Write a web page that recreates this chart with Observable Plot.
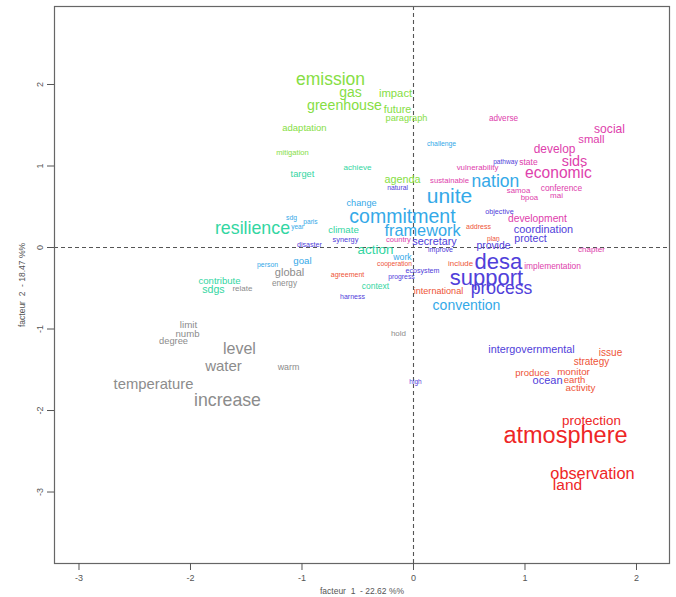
<!DOCTYPE html>
<html>
<head>
<meta charset="utf-8">
<script src="https://cdn.jsdelivr.net/npm/d3@7"></script>
<script src="https://cdn.jsdelivr.net/npm/@observablehq/plot@0.6"></script>
<style>
  html, body { margin: 0; padding: 0; background: #fff; }
  #chart svg { display: block; }
</style>
</head>
<body>
<div id="chart"></div>
<script>
// Words of the factor map
const words = [
  "emission","gas","greenhouse","impact","future","paragraph","adaptation","mitigation","agenda",
  "target","achieve","resilience","climate","action","contribute","sdgs","context",
  "challenge","unite","nation","commitment","framework","change","sdg","paris","year","person","goal","work","convention",
  "natural","disaster","synergy","secretary","improve","provide","desa","support","process","coordination","protect","objective","pathway","ecosystem","progress","harness","intergovernmental","ocean","high",
  "adverse","social","small","develop","sids","economic","vulnerability","sustainable","state","samoa","conference","mai","bpoa","development","country","chapter","implementation",
  "address","plan","include","cooperation","agreement","international","issue","strategy","produce","monitor","earth","activity",
  "protection","atmosphere","observation","land",
  "global","energy","relate","limit","numb","degree","level","water","warm","temperature","increase","hold"
];
// Coordinates on factor 1
const f1 = [
  -0.744,-0.565,-0.619,-0.161,-0.143,-0.063,-0.978,-1.085,-0.099,
  -0.996,-0.502,-1.444,-0.628,-0.341,-1.740,-1.794,-0.341,
  0.251,0.323,0.735,-0.099,0.081,-0.466,-1.094,-0.924,-1.040,-1.309,-0.996,-0.099,0.475,
  -0.143,-0.933,-0.610,0.188,0.242,0.717,0.762,0.655,0.789,1.166,1.049,0.771,0.825,0.081,-0.108,-0.547,1.058,1.202,0.018,
  0.807,1.758,1.596,1.265,1.444,1.300,0.574,0.323,1.031,0.942,1.327,1.283,1.040,1.112,-0.135,1.596,1.247,
  0.583,0.717,0.422,-0.170,-0.592,0.224,1.767,1.596,1.067,1.435,1.444,1.498,
  1.596,1.363,1.605,1.381,
  -1.112,-1.157,-1.534,-2.018,-2.027,-2.152,-1.561,-1.704,-1.121,-2.332,-1.668,-0.135
];
// Coordinates on factor 2
const f2 = [
  2.061,1.902,1.742,1.890,1.693,1.583,1.472,1.166,0.834,
  0.896,0.982,0.233,0.221,-0.025,-0.405,-0.515,-0.479,
  1.276,0.626,0.810,0.380,0.209,0.540,0.368,0.319,0.258,-0.209,-0.160,-0.123,-0.712,
  0.736,0.037,0.098,0.074,-0.025,0.025,-0.172,-0.368,-0.503,0.221,0.110,0.442,1.055,-0.282,-0.356,-0.601,-1.252,-1.632,-1.644,
  1.583,1.448,1.325,1.202,1.055,0.920,0.982,0.822,1.043,0.699,0.724,0.638,0.613,0.356,0.098,-0.025,-0.233,
  0.258,0.110,-0.196,-0.196,-0.331,-0.540,-1.288,-1.399,-1.534,-1.521,-1.620,-1.718,
  -2.123,-2.307,-2.773,-2.920,
  -0.307,-0.442,-0.503,-0.945,-1.055,-1.153,-1.239,-1.460,-1.472,-1.681,-1.877,-1.055
];
// Word weight (drawn as label size)
const weight = [
  17.5,14,14.2,11.3,10.8,9.2,9.5,7.6,10.8,
  9.3,8.1,17.8,9.7,13.4,9.6,10.6,8.5,
  6.8,21,17.5,19.5,16.3,9.2,6.8,6.6,6.5,6.9,9.7,8.7,14,
  6.8,7.1,7.4,10.8,7,10.4,22,22,17.6,10.9,10.6,7.2,6.6,7.1,6.8,7,10.8,11,6.5,
  8.2,12.1,11.3,11.9,14.4,15.6,7.9,7.7,8.5,7.8,8.4,8,7.8,10.3,7.6,8,8.4,
  7,6.7,7.9,6.7,7,9.1,10,10,9.5,9.8,9.5,9.8,
  13.4,23.5,16.3,15.5,
  11,8.2,8,9.8,9.6,9.3,16,15,8.9,14.8,17.7,8
];
// Cluster of each word
const cluster = [
  ...Array(9).fill("class 1"),
  ...Array(8).fill("class 2"),
  ...Array(13).fill("class 3"),
  ...Array(19).fill("class 4"),
  ...Array(17).fill("class 5"),
  ...Array(12).fill("class 6"),
  ...Array(4).fill("class 7"),
  ...Array(12).fill("class 8")
];
const clusterNames = ["class 1","class 2","class 3","class 4","class 5","class 6","class 7","class 8"];
const clusterColors = ["#86DE44","#33D6A2","#34A9E8","#5040DA","#DE40AC","#EE5438","#EE2626","#8C8C8C"];
const xTicks = [-3,-2,-1,0,1,2];
const yTicks = [-3,-2,-1,0,1,2];

const data = words.map((w, i) => ({word: w, f1: f1[i], f2: f2[i], weight: weight[i], cluster: cluster[i]}));

const chart = Plot.plot({
  width: 676,
  height: 597,
  marginLeft: 54,
  marginRight: 7,
  marginTop: 6,
  marginBottom: 34,
  style: {fontFamily: "'Liberation Sans', Arial, sans-serif", background: "#fff", color: "#555"},
  x: {domain: [-3.2197, 2.296]},
  y: {domain: [-3.877, 2.957]},
  color: {type: "ordinal", domain: clusterNames, range: clusterColors},
  marks: [
    Plot.ruleX([0], {stroke: "#555", strokeDasharray: "4,3", strokeWidth: 1.1}),
    Plot.ruleY([0], {stroke: "#555", strokeDasharray: "4,3", strokeWidth: 1.1}),
    Plot.text(data, {
      x: "f1", y: "f2", text: "word", fill: "cluster",
      fontSize: d => d.weight, textAnchor: "middle", lineAnchor: "middle"
    }),
    Plot.frame({stroke: "#666", strokeWidth: 1.2}),
    Plot.axisX({ticks: xTicks, tickFormat: d => String(d), tickSize: 7, tickPadding: 4, fontSize: 9, stroke: "#555",
      label: "facteur  1  - 22.62 %%", labelAnchor: "center", labelArrow: "none", labelOffset: 30}),
    Plot.axisY({ticks: yTicks, tickFormat: d => String(d), tickSize: 7, tickPadding: 5, tickRotate: -90, fontSize: 9, stroke: "#555",
      label: "facteur  2  - 18.47 %%", labelAnchor: "center", labelArrow: "none", labelOffset: 36})
  ]
});
chart.querySelectorAll('[aria-label="x-axis label"] text, [aria-label="y-axis label"] text').forEach(t => t.setAttribute("font-size", "8.5"));
document.getElementById("chart").append(chart);
</script>
</body>
</html>
